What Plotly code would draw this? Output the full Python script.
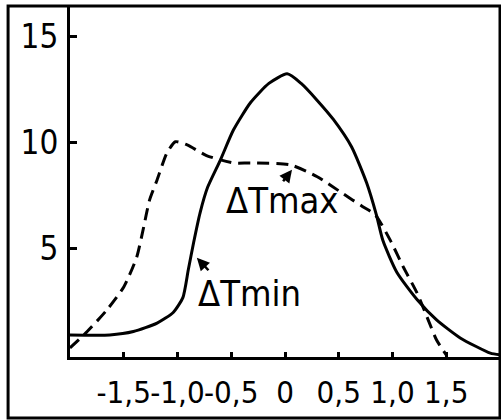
import plotly.graph_objects as go

# ΔTmin (solid curve)
tmin_x = [-2.0, -1.63, -1.41, -1.19, -1.04, -0.95, -0.9, -0.85, -0.79, -0.72, -0.6, -0.48, -0.32, -0.15, 0.02,
          0.15, 0.3, 0.45, 0.62, 0.76, 0.85, 0.91, 1.04, 1.23, 1.41, 1.63, 1.91, 2.0]
tmin_y = [0.94, 0.94, 1.1, 1.5, 2.0, 2.7, 4.0, 5.3, 6.7, 7.9, 9.2, 10.6, 11.9, 12.8, 13.25,
          12.8, 12.0, 11.1, 9.8, 8.1, 6.6, 5.4, 3.9, 2.6, 1.65, 0.8, 0.08, 0.0]

# ΔTmax (dashed curve)
tmax_x = [-2.0, -1.84, -1.66, -1.5, -1.38, -1.32, -1.26, -1.19, -1.1, -1.02, -0.91, -0.73, -0.48, -0.32, 0.05,
          0.3, 0.54, 0.72, 0.84, 0.98, 1.1, 1.23, 1.32, 1.41, 1.5]
tmax_y = [0.33, 1.1, 2.1, 3.2, 4.6, 5.9, 7.3, 8.25, 9.5, 10.05, 9.9, 9.4, 9.05, 9.05, 8.96,
          8.4, 7.6, 7.0, 6.6, 5.4, 4.15, 2.9, 1.8, 0.7, 0.0]

x_tickvals = [-1.5, -1.0, -0.5, 0, 0.5, 1.0, 1.5]
x_ticktext = ["-1,5", "-1,0", "-0,5", "0", "0,5", "1,0", "1,5"]
y_tickvals = [5, 10, 15]
y_ticktext = ["5", "10", "15"]

FONT = "DejaVu Sans Condensed, DejaVu Sans, sans-serif"

fig = go.Figure()
fig.add_trace(go.Scatter(x=tmin_x, y=tmin_y, mode="lines",
                         line=dict(color="black", width=3, shape="spline", smoothing=0.6),
                         showlegend=False, hoverinfo="skip"))
fig.add_trace(go.Scatter(x=tmax_x, y=tmax_y, mode="lines",
                         line=dict(color="black", width=3, dash="12px,7px", shape="spline", smoothing=0.6),
                         showlegend=False, hoverinfo="skip"))

fig.add_annotation(x=-0.03, y=7.3, text="ΔTmax", showarrow=False,
                   font=dict(family=FONT, size=36, color="black"))
fig.add_annotation(x=-0.33, y=2.9, text="ΔTmin", showarrow=False,
                   font=dict(family=FONT, size=36, color="black"))
fig.add_annotation(x=0.065, y=8.73, ax=-10, ay=13, text="", showarrow=True,
                   arrowhead=2, arrowsize=1, arrowwidth=2.5, arrowcolor="black")
fig.add_annotation(x=-0.82, y=4.58, ax=13, ay=14, text="", showarrow=True,
                   arrowhead=2, arrowsize=1, arrowwidth=2.5, arrowcolor="black")

# outer frame
fig.add_shape(type="rect", xref="paper", yref="paper",
              x0=-0.144, x1=1.0, y0=-0.174, y1=1.0,
              line=dict(color="black", width=3))

fig.update_xaxes(range=[-2, 2], tickvals=x_tickvals, ticktext=x_ticktext, tickangle=0,
                 ticks="inside", ticklen=5, tickwidth=2.5, tickcolor="black", automargin=False,
                 showline=True, linecolor="black", linewidth=3, showgrid=False, zeroline=False,
                 tickfont=dict(family=FONT, size=31, color="black"), ticklabelstandoff=6)
fig.update_yaxes(range=[-0.1, 16.45], tickvals=y_tickvals, ticktext=y_ticktext, automargin=False,
                 ticks="inside", ticklen=7, tickwidth=2.5, tickcolor="black",
                 showline=True, linecolor="black", linewidth=3, showgrid=False, zeroline=False,
                 tickfont=dict(family=FONT, size=33, color="black"), ticklabelstandoff=2)

fig.update_layout(width=501, height=420, margin=dict(l=70, r=1, t=6, b=63),
                  paper_bgcolor="white", plot_bgcolor="white")
fig.write_html("out.html", config={"displayModeBar": False},
               post_script="document.body.style.margin='0';document.body.style.overflow='hidden';")
